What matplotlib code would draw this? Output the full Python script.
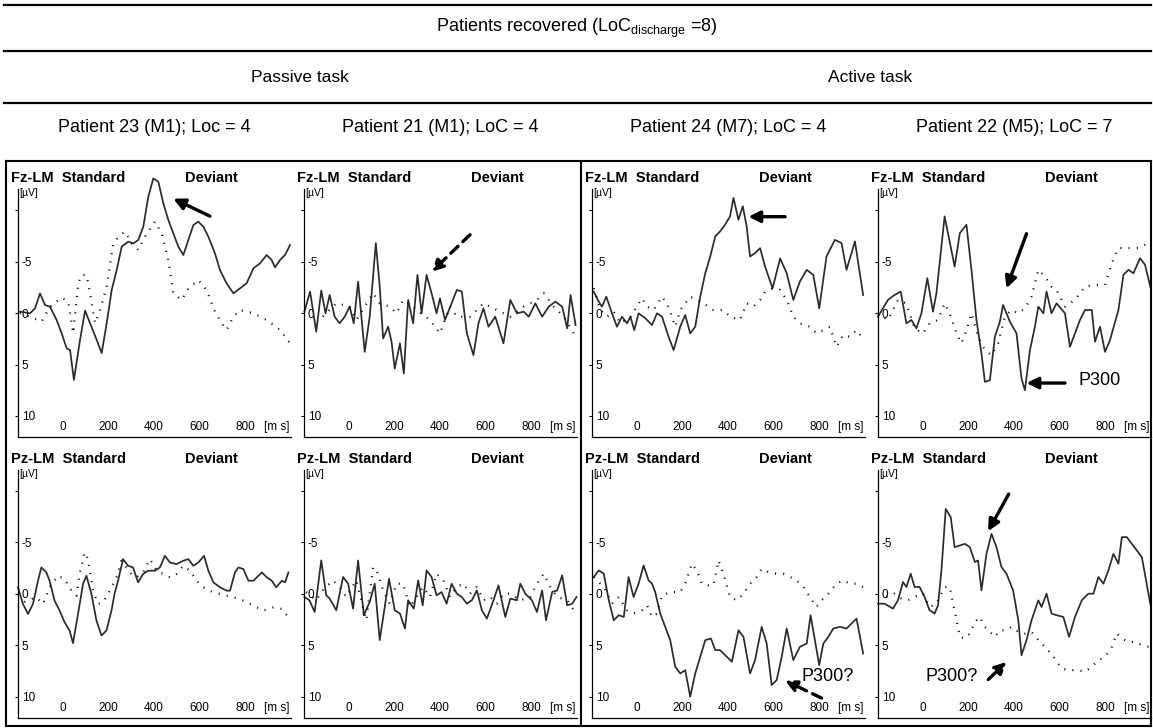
import matplotlib.pyplot as plt
from matplotlib.lines import Line2D

plt.rcParams['font.family'] = ['Liberation Sans', 'DejaVu Sans']
plt.rcParams['mathtext.fontset'] = 'custom'
plt.rcParams['mathtext.rm'] = 'Liberation Sans'

# time in ms, amplitude in µV (negative plotted up)
# Patient 23, Fz
t23_fz_s = [-189, -145, -123, -101, -79, -57, -28, -6, 16, 31, 48, 75, 97, 119, 148, 170, 192, 214, 236, 258,
            287, 309, 331, 353, 375, 397, 419, 441, 463, 485, 507, 529, 551, 573, 595, 617, 639, 668, 690, 719,
            749, 778, 807, 837, 866, 895, 917, 932, 954, 976, 998]
v23_fz_s = [-0.13, 0.03, -0.45, -1.9, -0.78, -0.6, 0.68, 1.97, 3.43, 3.6, 6.5, 2.6, -0.23, 1.0, 2.6, 3.9, 1.0,
            -2.23, -4.17, -6.44, -6.93, -6.76, -7.09, -8.38, -11.29, -13.07, -12.75, -10.65, -9.03, -7.73, -6.44,
            -5.63, -7.09, -8.54, -8.87, -8.38, -7.41, -5.79, -4.17, -2.88, -1.91, -2.39, -2.88, -4.34, -4.82,
            -5.63, -5.15, -4.43, -5.15, -5.63, -6.6]
t23_fz_d = [-190, -145, -94, -57, -6, 23, 45, 67, 82, 104, 119, 141, 163, 192, 221, 251, 273, 302, 331, 360, 404,
            434, 463, 485, 522, 551, 595, 631, 668, 698, 719, 749, 778, 837, 895, 954, 998]
v23_fz_d = [0.0, 0.36, 0.84, -0.61, -1.49, -1.1, 1.97, -2.88, -3.69, -3.69, -1.91, 1.0, -0.29, -2.56, -6.76,
            -7.57, -7.9, -6.76, -6.12, -7.41, -8.87, -7.73, -5.15, -1.91, -1.26, -2.39, -3.2, -2.23, -0.13, 1.0,
            1.65, 0.36, -0.29, 0.03, 0.68, 1.65, 2.94]

# Patient 21, Fz
t21_fz_s = [-196, -171, -144, -122, -103, -85, -63, -41, -19, 3, 21, 40, 69, 91, 118, 135, 150, 172, 187, 201,
            224, 241, 260, 282, 301, 319, 341, 363, 385, 400, 422, 451, 474, 496, 518, 547, 569, 591, 613, 643,
            679, 709, 738, 768, 790, 819, 849, 878, 907, 937, 959, 974, 996]
v21_fz_s = [-0.13, -2.08, 1.82, -2.18, 0.03, -1.75, 0.36, 1.0, 0.36, -0.62, 1.0, -3.05, 3.77, 0.36, -6.79,
            -2.56, 2.47, 1.33, 2.79, 5.39, 2.95, 5.88, -1.27, 1.0, -3.7, 0.03, -3.7, -1.92, 0.03, -1.43, 0.68,
            -0.94, -2.24, -2.08, 1.98, 4.09, 1.0, -0.45, 1.33, 0.36, 2.95, -1.27, 0.03, -0.13, 0.36, -0.94, 0.36,
            -0.62, -1.1, -0.62, 1.49, -1.75, 1.17]
t21_fz_d = [-115, -56, 3, 32, 106, 135, 179, 209, 238, 268, 297, 356, 400, 444, 474, 532, 591, 650, 709, 768,
            826, 856, 900, 944, 988]
v21_fz_d = [0.36, -0.94, -0.62, 0.68, -1.92, -0.94, -0.62, 0.03, -1.27, -0.94, -0.29, 0.68, 1.98, -0.62, 0.36,
            0.36, -0.94, -0.29, 0.36, -0.62, -1.27, -1.92, -0.62, 0.36, 1.98]

# Patient 24, Fz
t24_fz_s = [-190, -168, -154, -135, -110, -88, -66, -44, -29, -12, 7, 37, 66, 88, 110, 139, 161, 190, 212, 234,
            256, 278, 300, 322, 344, 365, 387, 409, 424, 446, 465, 482, 497, 519, 541, 563, 596, 629, 658, 687,
            716, 746, 775, 801, 833, 870, 899, 921, 958, 994]
v24_fz_s = [-2.08, -1.1, -0.62, -1.59, 0.03, 1.33, 0.36, 1.0, 0.36, 1.66, 0.03, 0.52, 1.17, 0.03, 0.36, 2.31,
            3.6, 1.33, 0.19, 1.98, 1.33, -1.59, -3.86, -5.49, -7.44, -7.92, -8.57, -9.38, -11.17, -9.06, -10.36,
            -8.41, -5.49, -5.81, -6.3, -4.5, -2.4, -5.3, -3.86, -1.27, -3.05, -4.19, -3.7, -0.45, -5.49, -7.1,
            -6.79, -4.19, -6.95, -1.75]
t24_fz_d = [-190, -161, -132, -102, -73, -29, 22, 44, 73, 110, 139, 168, 190, 234, 263, 292, 336, 380, 409, 453,
            482, 512, 541, 563, 599, 629, 658, 687, 716, 760, 789, 819, 848, 877, 906, 936, 965, 994]
v24_fz_d = [-2.4, -0.29, 0.36, -0.13, 1.0, 0.36, -1.43, -0.62, -0.29, -1.59, -0.62, 1.33, -0.29, -1.59, -1.27,
            -0.94, -0.29, -0.29, 0.36, 0.68, -0.94, -0.62, -1.27, -2.08, -2.4, -2.24, -1.27, 0.36, 1.0, 1.33,
            1.98, 1.66, 1.33, 3.28, 2.14, 2.31, 1.66, 2.47]

# Patient 22, Fz
t22_fz_s = [-198, -154, -125, -98, -73, -51, -29, -7, 19, 44, 59, 81, 95, 117, 139, 162, 191, 213, 235, 257, 272,
            294, 316, 338, 352, 382, 411, 433, 448, 470, 492, 507, 529, 543, 565, 587, 624, 646, 668, 690, 712,
            742, 756, 778, 800, 822, 859, 881, 903, 925, 954, 976, 999]
v22_fz_s = [0.36, -1.27, -1.75, -2.08, 1.0, 0.68, 1.49, 0.03, -3.38, -0.13, -1.92, -6.46, -9.38, -6.95, -4.51,
            -7.76, -8.57, -4.19, 0.68, 3.93, 6.69, 6.53, 2.31, 0.84, -0.78, 0.84, 1.98, 6.36, 7.5, 3.6, 1.33,
            -0.62, 0.03, -2.08, 0.03, -0.94, 0.03, 3.28, 1.98, 0.68, -0.29, -0.29, 2.79, 1.33, 3.77, 2.63, -0.29,
            -3.7, -4.19, -3.86, -5.32, -4.68, -2.56]
t22_fz_d = [-198, -154, -110, -73, -37, 0, 29, 66, 95, 117, 147, 169, 191, 213, 242, 272, 301, 330, 360, 389,
            419, 448, 477, 507, 536, 565, 587, 624, 668, 712, 756, 800, 830, 859, 903, 947, 991]
v22_fz_d = [0.03, 0.68, -1.27, -0.94, 1.49, 1.98, 1.0, 0.68, -0.94, 0.03, 1.98, 2.95, 1.66, 0.03, 2.31, 3.6,
            4.09, 2.95, 0.36, -0.29, 0.03, -0.45, -1.59, -4.19, -3.54, -2.56, -2.24, -0.62, -1.27, -2.56, -2.73,
            -2.73, -4.84, -6.3, -6.3, -6.3, -6.79]

# Patient 23, Pz
t23_pz_s = [-198, -176, -154, -132, -110, -95, -73, -59, -37, -15, 7, 29, 44, 66, 88, 103, 125, 147, 169, 191,
            213, 228, 242, 264, 286, 308, 330, 352, 374, 404, 426, 448, 470, 499, 529, 551, 573, 595, 620, 639,
            661, 690, 720, 734, 756, 771, 793, 815, 837, 874, 896, 918, 937, 962, 976, 991]
v23_pz_s = [-0.65, 0.97, 1.94, 0.97, -1.29, -2.58, -2.1, -1.29, 0.65, 1.61, 2.74, 3.55, 4.77, 1.94, -0.97,
            -1.77, 0.0, 2.58, 4.03, 3.55, 1.61, -0.16, -1.29, -3.39, -2.74, -2.58, -1.13, -1.94, -2.26, -2.26,
            -2.58, -3.71, -3.06, -2.9, -3.23, -3.39, -2.74, -3.06, -3.71, -2.26, -1.13, -0.65, -0.32, -0.32,
            -2.1, -2.58, -2.42, -1.29, -1.29, -2.1, -1.61, -1.29, -0.65, -1.29, -1.13, -2.1]
t23_pz_d = [-198, -162, -117, -88, -59, -22, 7, 37, 59, 73, 95, 110, 132, 154, 176, 206, 235, 257, 279, 301, 323,
            352, 382, 411, 441, 470, 499, 529, 558, 587, 617, 661, 720, 778, 822, 881, 925, 962, 991]
v23_pz_d = [1.29, 0.65, 0.32, 0.97, -0.65, -1.77, -1.45, -0.32, 0.16, -1.94, -4.03, -3.39, -0.32, 0.97, 0.81,
            -0.32, -1.61, -3.23, -2.58, -1.94, -1.61, -2.1, -3.39, -2.26, -1.94, -1.61, -1.94, -2.74, -2.26,
            -1.29, -0.65, -0.16, 0.16, 0.48, 0.97, 1.61, 1.29, 1.45, 2.26]

# Patient 21, Pz
t21_pz_s = [-196, -174, -151, -122, -100, -85, -56, -26, -4, 18, 40, 65, 91, 113, 135, 157, 176, 201, 224, 246,
            260, 285, 304, 324, 341, 363, 385, 407, 429, 451, 474, 496, 518, 540, 562, 584, 606, 635, 657, 687,
            709, 738, 753, 775, 804, 826, 849, 866, 893, 915, 937, 959, 981, 1000]
v21_pz_s = [0.29, 0.61, 1.74, -3.26, 0.13, 0.45, 1.58, -1.65, -1.0, 1.42, -3.26, 2.06, 0.77, -1.0, 4.48, 1.26,
            -1.48, 1.58, 1.9, 3.35, 0.61, 1.42, -1.32, 1.1, -2.29, -1.65, 0.13, -0.19, 0.94, -1.0, -0.03, 0.29,
            0.94, 0.61, -0.35, 1.58, 2.39, 0.61, -0.84, 2.23, 0.45, 0.61, -1.0, -0.03, 0.61, 1.74, -0.35, 2.55,
            -0.19, -0.35, -1.81, 1.1, 0.94, 0.29]
t21_pz_d = [-188, -144, -115, -71, -41, -12, 32, 76, 106, 121, 150, 179, 209, 238, 268, 297, 326, 356, 385, 415,
            444, 474, 503, 532, 562, 591, 621, 650, 679, 709, 753, 797, 826, 856, 885, 915, 959, 988]
v21_pz_d = [-0.19, 0.61, -0.35, -1.32, -0.68, 0.29, -1.32, 2.55, -2.61, -2.29, -0.35, 0.94, -1.0, -1.0, 1.26,
            0.29, -0.68, 0.29, -1.97, -1.32, 0.29, -0.68, -1.0, -0.03, -0.68, 0.61, 0.29, 0.94, -0.03, -0.03,
            0.61, 0.29, -1.0, -1.97, -0.68, 0.29, 0.61, 1.58]

# Patient 24, Pz
t24_pz_s = [-190, -168, -146, -124, -102, -80, -58, -37, -15, 7, 29, 51, 66, 80, 102, 124, 146, 168, 190, 212,
            234, 256, 278, 300, 325, 344, 365, 395, 417, 446, 468, 497, 519, 548, 570, 592, 614, 636, 658, 687,
            716, 746, 763, 782, 801, 819, 841, 863, 892, 921, 943, 965, 994]
v24_pz_s = [-1.65, -2.29, -1.97, 0.61, 2.55, 2.06, 2.23, -1.65, 0.29, -1.0, -2.77, -1.32, -1.0, -0.19, 1.9,
            3.19, 4.48, 7.06, 7.71, 7.39, 9.97, 7.71, 6.1, 4.48, 4.32, 5.45, 5.45, 6.1, 6.58, 3.52, 4.16, 7.71,
            6.42, 3.19, 4.81, 8.84, 8.35, 6.1, 3.35, 6.42, 5.13, 4.81, 2.06, 4.48, 6.9, 4.81, 4.16, 3.35, 3.19,
            3.35, 2.87, 2.39, 5.77]
t24_pz_d = [-190, -146, -110, -80, -44, -15, 22, 44, 66, 88, 110, 146, 190, 212, 241, 263, 285, 314, 336, 358,
            380, 409, 439, 468, 497, 526, 548, 577, 614, 643, 673, 702, 731, 760, 789, 811, 841, 877, 906, 936,
            965, 994]
v24_pz_d = [-1.65, -0.68, 0.94, 0.29, 1.58, 1.9, 1.58, 1.1, 2.23, 1.9, 0.13, -0.19, -0.19, -1.0, -2.94, -2.29,
            -1.0, -0.84, -0.84, -3.26, -1.97, 0.29, 0.61, -0.03, -1.0, -1.65, -2.45, -2.13, -1.97, -1.97, -1.65,
            -1.32, -0.68, 0.29, 1.26, 0.61, -0.03, -1.0, -1.32, -1.0, -1.0, -0.68]

# Patient 22, Pz
t22_pz_s = [-198, -169, -132, -110, -88, -73, -54, -37, -15, 7, 29, 51, 66, 81, 100, 122, 139, 162, 184, 206, 228,
            242, 257, 279, 301, 323, 345, 367, 396, 419, 433, 455, 477, 507, 521, 543, 565, 587, 617, 642, 668,
            698, 727, 749, 771, 793, 815, 837, 859, 874, 896, 918, 940, 962, 999]
v22_pz_s = [0.94, 0.94, 1.42, 0.61, -1.16, -0.68, -1.97, -0.68, -0.68, 0.29, 1.58, 1.9, 1.1, -2.29, -8.26,
            -7.45, -4.55, -4.71, -4.87, -4.55, -3.1, -3.26, -0.35, -3.9, -5.84, -4.55, -2.61, -1.97, -0.35, 2.55,
            5.94, 4.48, 2.55, 0.61, 1.26, -0.03, 1.9, 2.06, 2.23, 4.16, 2.23, 0.61, -0.03, -0.03, -1.65, -1.0,
            -2.29, -3.9, -2.94, -5.52, -5.52, -4.87, -4.23, -3.58, 0.94]
t22_pz_d = [-198, -162, -125, -95, -66, -37, 0, 29, 59, 81, 95, 117, 139, 162, 184, 206, 228, 250, 272, 294, 316,
            338, 360, 389, 419, 448, 477, 507, 543, 580, 609, 639, 683, 712, 742, 771, 800, 830, 852, 874, 903,
            932, 962, 991]
v22_pz_d = [0.29, 0.29, -0.03, 0.45, 0.61, 0.29, -0.03, 1.26, 0.94, -0.03, -0.68, -0.68, 1.58, 4.16, 4.32, 3.84,
            2.71, 2.23, 3.19, 3.68, 4.16, 3.52, 3.52, 3.19, 3.68, 3.84, 3.68, 4.48, 5.29, 6.26, 7.23, 7.39, 7.39,
            7.55, 7.06, 6.42, 6.1, 5.13, 3.84, 4.32, 4.65, 4.65, 4.97, 5.13]

titles = ['Patient 23 (M1); Loc = 4', 'Patient 21 (M1); LoC = 4',
          'Patient 24 (M7); LoC = 4', 'Patient 22 (M5); LoC = 7']
sites = ['Fz-LM', 'Pz-LM']
rows = [
    [(t23_fz_s, v23_fz_s, t23_fz_d, v23_fz_d), (t21_fz_s, v21_fz_s, t21_fz_d, v21_fz_d),
     (t24_fz_s, v24_fz_s, t24_fz_d, v24_fz_d), (t22_fz_s, v22_fz_s, t22_fz_d, v22_fz_d)],
    [(t23_pz_s, v23_pz_s, t23_pz_d, v23_pz_d), (t21_pz_s, v21_pz_s, t21_pz_d, v21_pz_d),
     (t24_pz_s, v24_pz_s, t24_pz_d, v24_pz_d), (t22_pz_s, v22_pz_s, t22_pz_d, v22_pz_d)],
]

W, H = 1153, 728
fig = plt.figure(figsize=(W / 100, H / 100), dpi=100)

col_left = [17.5, 303.5, 591.5, 877.5]
row_top = [189.4, 470.4]
ax_w, ax_h = 273, 247.2

axes = {}
for r, row in enumerate(rows):
    for c, (ts, vs, td, vd) in enumerate(row):
        ax = fig.add_axes([col_left[c] / W, 1 - (row_top[r] + ax_h) / H, ax_w / W, ax_h / H])
        ax.patch.set_alpha(0)
        ax.plot(ts, vs, color='#2b2b2b', lw=1.25, solid_joinstyle='round', clip_on=False)
        ax.plot(td, vd, color='#111111', lw=1.6, ls=(0, (0.5, 3.2)), clip_on=False)
        ax.set_xlim(-200, 1000)
        ax.set_ylim(12, -12)
        ax.spines[['top', 'right']].set_visible(False)
        ax.spines[['left', 'bottom']].set_linewidth(0.9)
        ax.set_yticks([-10, -5, 0, 5, 10], ['', '-5', '0', '5', '10'])
        ax.set_xticks([0, 200, 400, 600, 800, 940], ['0', '200', '400', '600', '800', '[m s]'])
        ax.tick_params(axis='x', length=0, pad=-11.5, labelsize=8.5)
        ax.tick_params(axis='y', length=2.5, width=0.8, pad=-5.5, labelsize=8.5)
        for lb in ax.get_yticklabels():
            lb.set_ha('left')
        ax.text(-0.022, 1.045, f'{sites[r]}  Standard', transform=ax.transAxes,
                fontsize=10.5, fontweight='bold', va='center')
        ax.text(0.71, 1.045, 'Deviant', transform=ax.transAxes,
                fontsize=10.5, fontweight='bold', va='center', ha='center')
        ax.text(0.008, 0.985, '[µV]', transform=ax.transAxes, fontsize=7.5, va='center')
        axes[(r, c)] = ax

solid = dict(arrowstyle='-|>', lw=2.4, color='k', mutation_scale=17, shrinkA=0, shrinkB=0)
dashed = dict(solid, ls=(0, (3, 2)))


def arrow(ax, head, tail, props):
    ax.annotate('', xy=head, xytext=tail, arrowprops=props, annotation_clip=False)


arrow(axes[(0, 0)], (485, -11.1), (646, -9.4), solid)
arrow(axes[(0, 1)], (363, -4.0), (532, -7.6), dashed)
arrow(axes[(0, 2)], (490, -9.35), (651, -9.35), solid)
arrow(axes[(0, 3)], (367, -2.4), (455, -7.7), solid)
arrow(axes[(0, 3)], (455, 6.8), (624, 6.8), solid)
axes[(0, 3)].text(683, 6.6, 'P300', fontsize=13, va='center')
arrow(axes[(1, 2)], (651, 8.4), (811, 10.1), dashed)
axes[(1, 2)].text(724, 8.0, 'P300?', fontsize=13, va='center')
arrow(axes[(1, 3)], (286, -6.1), (377, -9.7), solid)
arrow(axes[(1, 3)], (367, 6.6), (287, 8.3), dashed)
axes[(1, 3)].text(242, 8.0, 'P300?', fontsize=13, va='center', ha='right')

# header texts
fig.text(0.5, 1 - 28 / H, 'Patients recovered (LoC$_{\\mathrm{discharge}}$ =8)', ha='center', va='center', fontsize=13)
fig.text(300 / W, 1 - 77 / H, 'Passive task', ha='center', va='center', fontsize=12.5)
fig.text(870 / W, 1 - 77 / H, 'Active task', ha='center', va='center', fontsize=12.5)
for c, t in enumerate(titles):
    fig.text((col_left[c] + ax_w / 2) / W, 1 - 128 / H, t, ha='center', va='center', fontsize=13)

# rules and boxes
for yy in [5, 51, 103]:
    fig.add_artist(Line2D([4 / W, 1151 / W], [1 - yy / H] * 2, color='k', lw=1.6))
box = dict(color='k', lw=1.5)
fig.add_artist(Line2D([6 / W, 1151 / W], [1 - 161 / H] * 2, **box))
for xx in [6, 581, 1151]:
    fig.add_artist(Line2D([xx / W] * 2, [1 - 161 / H, 1 - 726 / H], **box))
fig.add_artist(Line2D([6 / W, 1151 / W], [1 - 726 / H] * 2, **box))

fig.savefig('out.png', dpi=100)
